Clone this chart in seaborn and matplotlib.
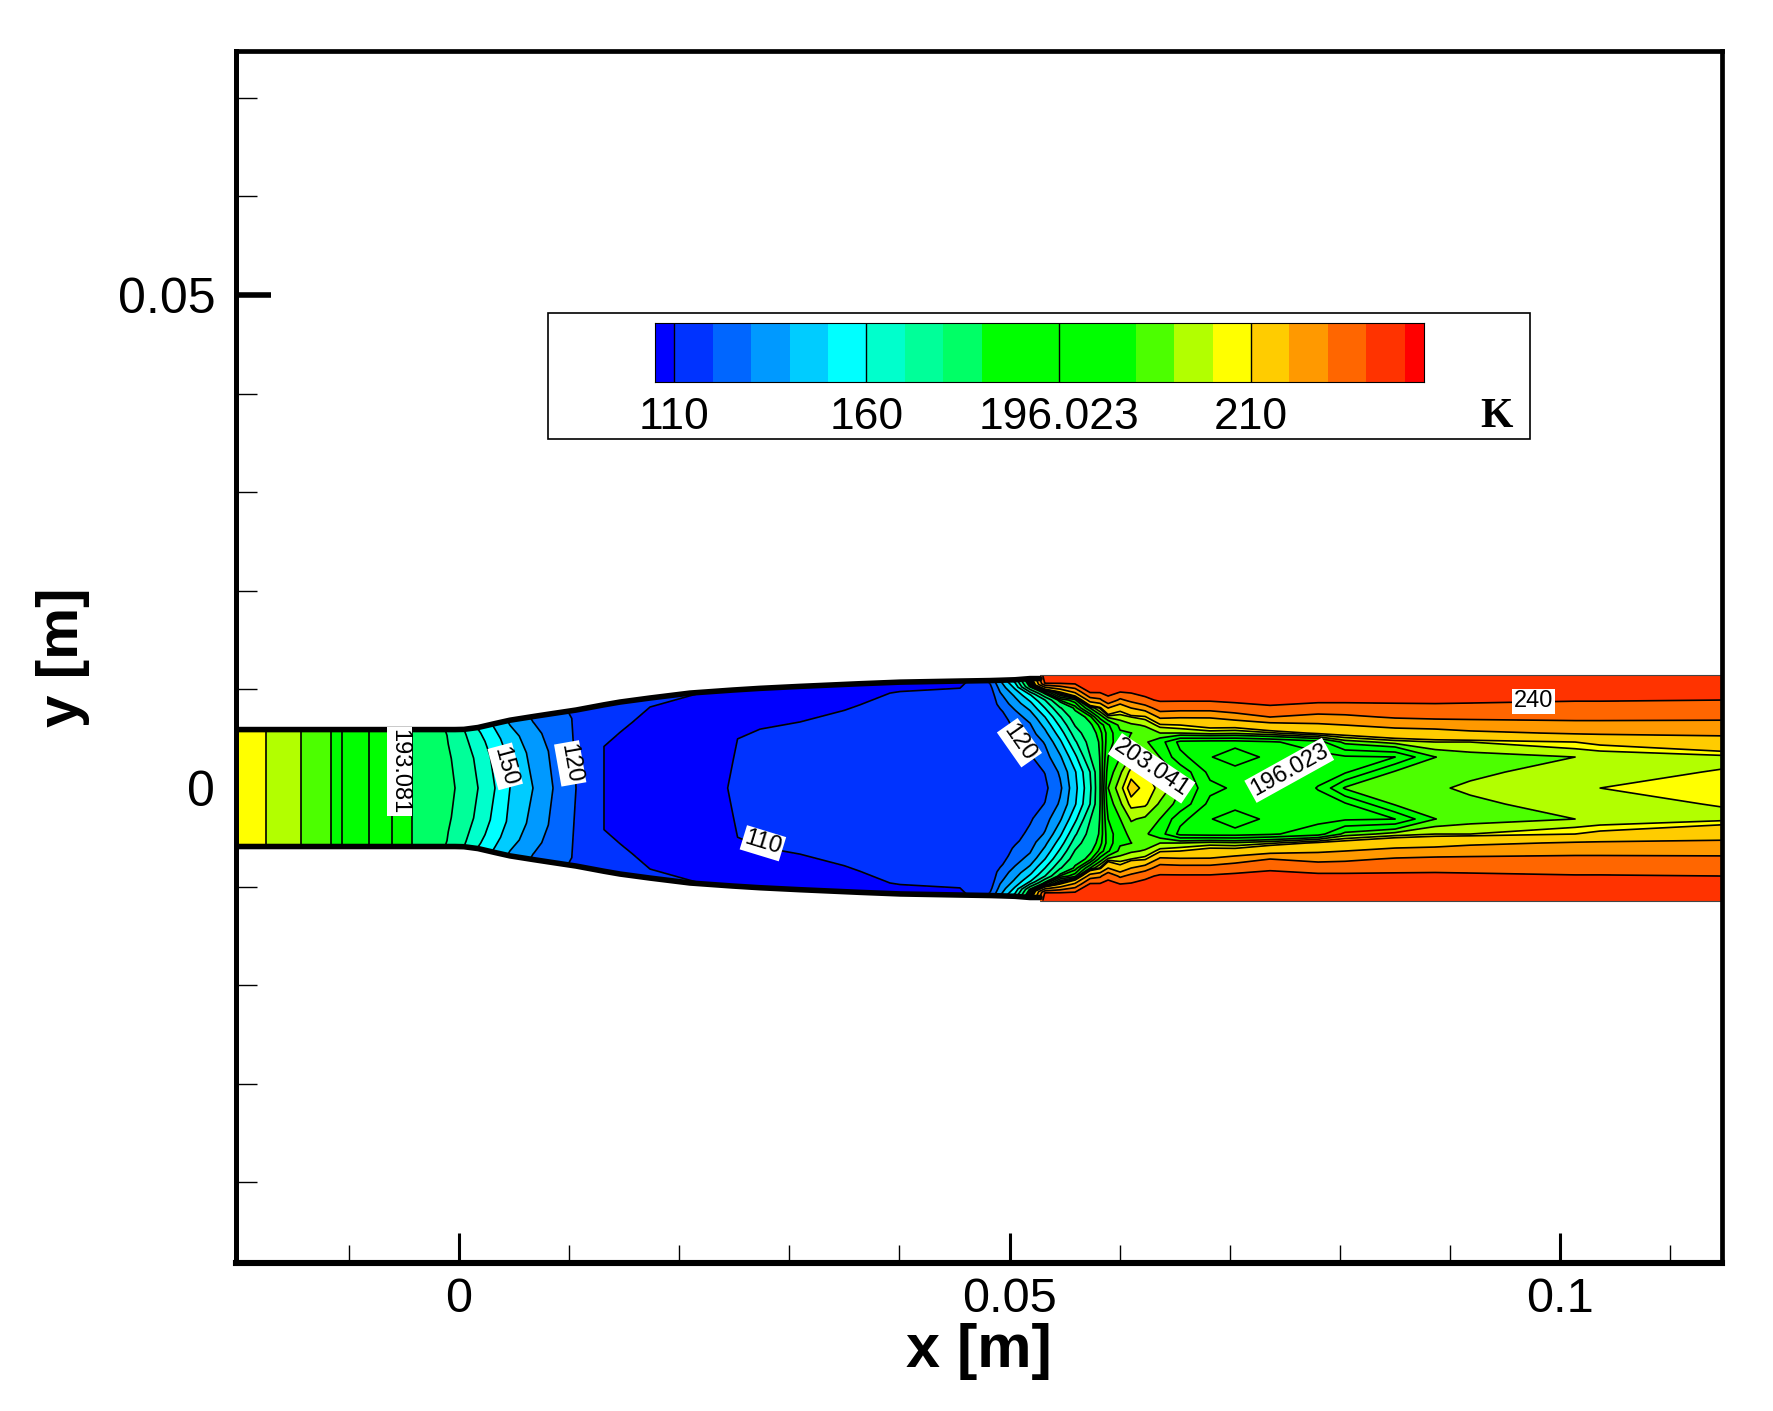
import numpy as np
import seaborn as sns
import matplotlib.pyplot as plt
from matplotlib.colors import BoundaryNorm, ListedColormap
from matplotlib.patches import Rectangle

# ==========================================
# DATOS
# ==========================================
levels = [90, 110, 120, 130, 140, 150, 160, 170, 180, 190, 193.081, 196.023,
          199.5, 203.041, 205.5, 208, 210, 220, 230, 240, 250, 260]
band_colors = ['#0000ff', '#0033ff', '#0066ff', '#0099ff', '#00ccff', '#00ffff',
               '#00ffcc', '#00ff99', '#00ff66', '#00ff00', '#00ff00', '#00ff00',
               '#00ff00', '#4cff00', '#b2ff00', '#ffff00', '#ffcc00', '#ff9900',
               '#ff6600', '#ff3300', '#ff0000']
legend_ticks = [110, 160, 196.023, 210]

# tobera: posicion, semialtura de pared, temperatura
nozzle_x = [-0.02025, -0.01753, -0.01435, -0.01163, -0.01063, -0.00817, -0.00609,
            -0.00427, -0.00127, -0.00036, 0.00045, 0.00173, 0.00327, 0.00463,
            0.00672, 0.00854, 0.01063, 0.01317, 0.01462, 0.01735, 0.02098,
            0.02489, 0.02734, 0.03097, 0.03642, 0.04005, 0.0455, 0.04823]
nozzle_h = [0.00593, 0.00593, 0.00593, 0.00593, 0.00593, 0.00593, 0.00593,
            0.00593, 0.00593, 0.00593, 0.00595, 0.00614, 0.00654, 0.00688,
            0.00725, 0.00756, 0.00791, 0.00844, 0.00872, 0.00913, 0.00963,
            0.00994, 0.01011, 0.01031, 0.01058, 0.01074, 0.01085, 0.0109]
nozzle_eta = [0, 0.5, 0.75, 0.9, 1]
nozzle_T = [
    [209.6, 209.6, 209.6, 209.6, 209.6],
    [208, 208, 208, 208, 208],
    [205.5, 205.5, 205.5, 205.5, 205.5],
    [203.041, 203.041, 203.041, 203.041, 203.041],
    [199.5, 199.5, 199.5, 199.5, 199.5],
    [196.023, 196.023, 196.023, 196.023, 196.023],
    [193.081, 193.081, 193.081, 193.081, 193.081],
    [190, 190, 190, 190, 190],
    [182.3, 181.9, 181.3, 181, 180],
    [180, 178.9, 177.3, 176, 174.7],
    [176, 174.8, 172.9, 171.5, 170],
    [170, 167.8, 164.7, 161.8, 159.3],
    [160, 157, 153.3, 150.3, 148],
    [150, 147.8, 144.4, 140.6, 138.3],
    [140, 136.9, 133.5, 130.4, 128.8],
    [130, 127.9, 125.5, 124.4, 123.6],
    [120, 119.1, 119, 119, 118],
    [110, 110, 114.1, 116.2, 116],
    [108.5, 108, 111.4, 114, 115],
    [107, 106.5, 108, 110, 113],
    [106.5, 106, 106.5, 107.5, 111],
    [110.5, 109.6, 106, 106.5, 108],
    [111.5, 112, 106.5, 106, 107],
    [113, 113, 108, 106.5, 106],
    [113, 113, 110.7, 108.5, 106],
    [113, 113, 112, 110.5, 106],
    [113, 113, 113, 112, 106],
    [113.5, 113.5, 113.5, 114.5, 122],
]

# choque y chorro
plume_x = [0.04823, 0.04914, 0.0505, 0.05186, 0.05322, 0.05459, 0.05595, 0.05731,
           0.05822, 0.05895, 0.06004, 0.06104, 0.06231, 0.06367, 0.06549, 0.06821,
           0.07048, 0.07366, 0.07802, 0.08047, 0.08501, 0.08865, 0.09183, 0.10136,
           0.10363, 0.11471]
plume_h = [0.0109, 0.01093, 0.01098, 0.0111, 0.01146, 0.01146, 0.01146, 0.01146,
           0.01146, 0.01146, 0.01146, 0.01146, 0.01146, 0.01146, 0.01146, 0.01146,
           0.01146, 0.01146, 0.01146, 0.01146, 0.01146, 0.01146, 0.01146, 0.01146,
           0.01146, 0.01146]
plume_eta = [0, 0.1416, 0.2743, 0.4071, 0.4867, 0.5575, 0.6283, 0.708, 0.7788,
             0.8496, 0.9292, 1]
plume_T = [
    [113.5, 113.5, 113.5, 113.5, 113.5, 113.5, 113.5, 113.5, 113.5, 114, 117, 122],
    [113.5, 113.5, 113.5, 113.5, 113.5, 113.5, 114, 118, 123, 127, 133, 140],
    [114, 114, 114, 116, 118, 121.5, 125, 129, 135, 141, 152, 165],
    [115, 116, 118.5, 122, 125, 128, 132, 140, 148, 158.5, 192, 205],
    [118, 120.3, 126, 131, 137.5, 143, 150, 160, 170, 196, 241, 246],
    [128, 131.5, 138.5, 148, 155, 161.8, 169, 179, 193.5, 210, 241, 246],
    [147, 149, 157.5, 168.5, 175, 180.7, 186, 191.5, 198, 222, 242, 246],
    [168, 170, 179.5, 184, 187, 189, 192, 203, 225, 241, 244, 247],
    [190, 190, 190.5, 191, 192, 194, 201, 208.5, 228, 241, 245, 247],
    [203, 201.5, 199.5, 198, 197.5, 199, 206, 220, 238, 242, 245, 247],
    [207, 205, 203, 201.5, 202.5, 204, 206.5, 212, 228, 240, 244, 247],
    [211.5, 208.8, 205.8, 204, 203, 205, 208, 220, 233, 241, 244, 247],
    [209, 208.5, 205, 203.5, 204, 205.8, 209, 225, 238.5, 242, 245, 247],
    [207.5, 205, 203, 201, 205.5, 209, 222, 235, 241, 243, 245, 247],
    [203.2, 202, 197, 195, 205.5, 210, 221, 234, 241, 243, 245, 247],
    [197, 195, 193.3, 194.5, 206.5, 212, 221, 234, 241, 243, 245, 247],
    [195.5, 194.5, 191, 194.5, 206, 212, 225, 236, 242, 244, 246, 247],
    [194.5, 194.3, 194, 195.5, 207.5, 216, 230, 239, 242, 244, 246, 247],
    [196.1, 195.5, 195, 198, 210.8, 218.5, 227, 236, 242, 244, 246, 247],
    [203.5, 195.5, 195.5, 204, 212, 220, 228, 236, 242, 244, 246, 247],
    [204.4, 203.5, 196, 206.5, 215, 223, 231, 237, 242, 244, 246, 247],
    [205.2, 204.5, 203, 208, 216, 224, 232, 237.5, 242, 244, 246, 247],
    [205.9, 205, 204.3, 208, 218, 225.5, 232, 237.5, 241.5, 244, 246, 247],
    [207.3, 206.5, 205.5, 210, 221, 227.5, 232, 237, 240.5, 243, 245.5, 247],
    [208, 207, 206, 211, 221.5, 227.5, 232, 237, 240.5, 243, 245.5, 247],
    [209.2, 208.2, 207.2, 214.5, 222.5, 226.9, 232, 237, 240, 242.5, 245, 247],
]

wall_end = 0.05277
label_text = ['193.081', '150', '120', '110', '120', '203.041', '196.023', '240']
label_x = [-0.0054, 0.0042, 0.0101, 0.0276, 0.0509, 0.0629, 0.0754, 0.0976]
label_y = [0.0017, 0.0022, 0.0025, -0.0056, 0.0046, 0.0020, 0.0018, 0.0088]
label_rot = [270, -75, -80, -17, -55, -34, 29, 0]

x_ticks = [0, 0.05, 0.1]
x_ticklabels = ['0', '0.05', '0.1']
x_minor = [-0.01, 0.01, 0.02, 0.03, 0.04, 0.06, 0.07, 0.08, 0.09, 0.11]
y_ticks = [0, 0.05]
y_ticklabels = ['0', '0.05']
y_minor = [-0.04, -0.03, -0.02, -0.01, 0.01, 0.02, 0.03, 0.04, 0.06, 0.07]


def malla(x, h, eta, T):
    # la tabla es media seccion, se refleja respecto al eje
    x = np.array(x)
    h = np.array(h)
    eta = np.array(eta)
    T = np.array(T)
    eta_full = np.r_[-eta[:0:-1], eta]
    T_full = np.c_[T[:, :0:-1], T]
    X = np.repeat(x[:, None], len(eta_full), axis=1)
    Y = h[:, None] * eta_full
    return X, Y, T_full


W, H = 1774, 1411
sns.set_style('white')
plt.rcParams['font.family'] = ['Liberation Sans', 'DejaVu Sans']
plt.rcParams['text.color'] = 'k'
plt.rcParams['axes.labelcolor'] = 'k'
plt.rcParams['xtick.color'] = 'k'
plt.rcParams['ytick.color'] = 'k'

fig = plt.figure(figsize=(W / 100, H / 100), dpi=100)
ax = fig.add_axes([236 / W, 1 - 1263 / H, (1722 - 236) / W, (1263 - 51) / H])

palette = sns.color_palette(band_colors)
for x, h, eta, T in [(nozzle_x, nozzle_h, nozzle_eta, nozzle_T),
                     (plume_x, plume_h, plume_eta, plume_T)]:
    X, Y, Z = malla(x, h, eta, T)
    ax.contourf(X, Y, Z, levels=levels, colors=palette)
    ax.contour(X, Y, Z, levels=levels[1:-1], colors='k', linewidths=1.2)

# pared de la tobera y bordes del dominio
wall_x = np.r_[nozzle_x, plume_x[1:4], wall_end]
wall_h = np.r_[nozzle_h, plume_h[1:4], plume_h[3]]
for signo in [1, -1]:
    sns.lineplot(x=wall_x, y=signo * wall_h, color='k', linewidth=4.0,
                 estimator=None, sort=False, ax=ax)
    ax.plot([wall_end, plume_x[-1]], [signo * plume_h[-1]] * 2, color='#444444', lw=0.8)

for txt, lx, ly, rot in zip(label_text, label_x, label_y, label_rot):
    ax.text(lx, ly, txt, fontsize=17, rotation=rot, ha='center', va='center',
            rotation_mode='anchor', zorder=6,
            bbox=dict(facecolor='white', edgecolor='none', pad=1.2))

ax.set_xlim(-0.02025, 0.1147)
ax.set_ylim(-0.04817, 0.07475)
ax.set_xticks(x_ticks)
ax.set_xticklabels(x_ticklabels)
ax.set_xticks(x_minor, minor=True)
ax.set_yticks(y_ticks)
ax.set_yticklabels(y_ticklabels)
ax.tick_params(axis='x', which='major', direction='in', length=21.6, width=2.2,
               labelsize=35, pad=10, bottom=True)
ax.tick_params(axis='x', which='minor', direction='in', length=13, width=1.0, bottom=True)
ax.set_yticks(y_minor, minor=True)
ax.tick_params(axis='y', which='major', direction='in', length=25, width=4.0,
               labelsize=36, pad=15, left=True)
ax.tick_params(axis='y', which='minor', direction='in', length=15, width=1.0, left=True)
ax.set_xlabel('x [m]', fontsize=44, fontweight='bold', labelpad=1)
ax.set_ylabel('y [m]', fontsize=42, fontweight='bold', labelpad=20)
for lado, ancho in [('left', 3.6), ('top', 3.4), ('right', 3.4), ('bottom', 4.4)]:
    ax.spines[lado].set_visible(True)
    ax.spines[lado].set_color('k')
    ax.spines[lado].set_linewidth(ancho)

# leyenda: caja y barra de colores
ax.add_patch(Rectangle((548 / W, 1 - 439 / H), (1530 - 548) / W, (439 - 313) / H,
                       transform=fig.transFigure, facecolor='white', edgecolor='k',
                       linewidth=1.2, zorder=7))
cax = fig.add_axes([655 / W, 1 - 382 / H, (1424 - 655) / W, (382 - 323) / H], zorder=8)
mid = (np.array(levels[:-1]) + np.array(levels[1:])) / 2
repite = [1] + [2] * (len(mid) - 2) + [1]
celdas = np.repeat(mid, repite)[None, :]
sns.heatmap(celdas, ax=cax, cmap=ListedColormap(band_colors),
            norm=BoundaryNorm(levels, len(band_colors)), cbar=False,
            xticklabels=False, yticklabels=False)
pos_ticks = [2 * levels.index(v) - 1 for v in legend_ticks]
for p in pos_ticks:
    cax.axvline(p, color='k', lw=1.0)
cax.set_xticks(pos_ticks)
cax.set_xticklabels(['110', '160', '196.023', '210'], fontsize=32)
cax.tick_params(axis='x', length=0, pad=11, bottom=True)
for lado in cax.spines:
    cax.spines[lado].set_visible(True)
    cax.spines[lado].set_color('k')
    cax.spines[lado].set_linewidth(0.8)
fig.text(1496 / W, 1 - 417 / H, 'K', fontsize=30, fontweight='bold', ha='center', va='center',
         family=['Liberation Serif', 'DejaVu Serif'], zorder=9)

plt.savefig('out.png', dpi=100)
